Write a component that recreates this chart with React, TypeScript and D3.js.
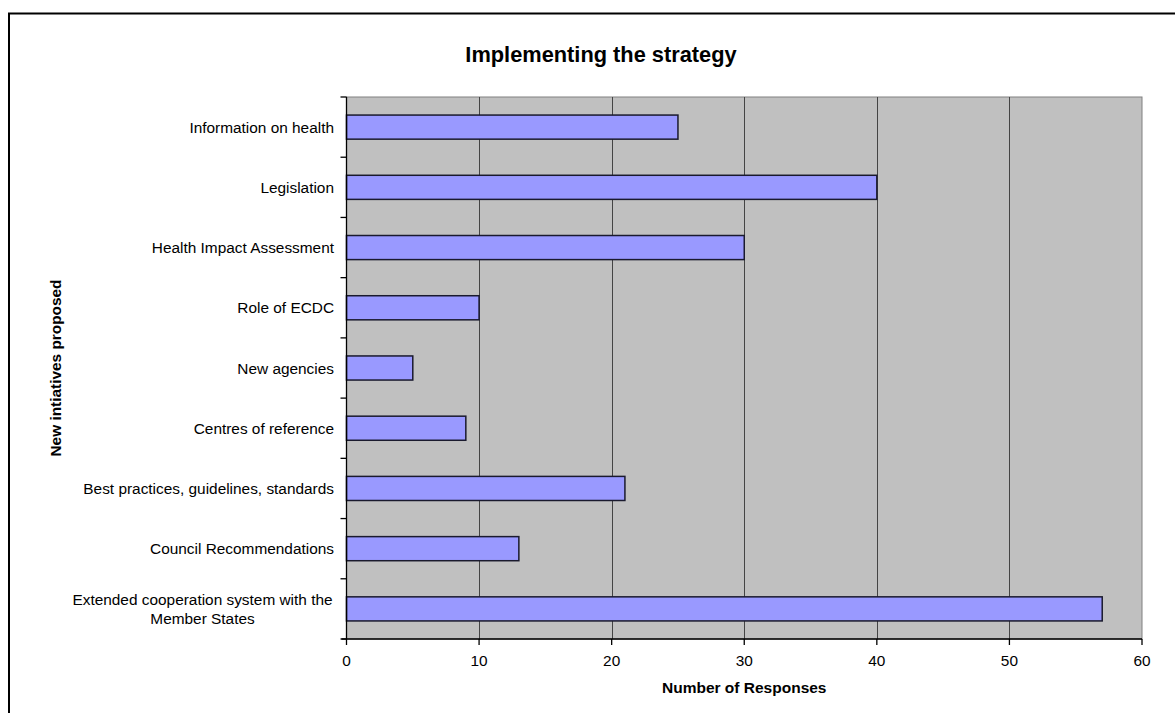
import React from "react";
import * as d3 from "d3";

const categories: string[][] = [
  ["Information on health"],
  ["Legislation"],
  ["Health Impact Assessment"],
  ["Role of ECDC"],
  ["New agencies"],
  ["Centres of reference"],
  ["Best practices, guidelines, standards"],
  ["Council Recommendations"],
  ["Extended cooperation system with the", "Member States"],
];
const values: number[] = [25, 40, 30, 10, 5, 9, 21, 13, 57];
const xTicks: number[] = [0, 10, 20, 30, 40, 50, 60];
const title = "Implementing the strategy";
const xTitle = "Number of Responses";
const yTitle = "New intiatives proposed";

const W = 1175;
const H = 713;
const plot = { left: 346.5, right: 1142, top: 97, bottom: 639 };
const FONT = "'Liberation Sans', Arial, Helvetica, sans-serif";

export default function App() {
  const x = d3.scaleLinear().domain([0, 60]).range([plot.left, plot.right]);
  const keys = categories.map((_, i) => String(i));
  const y = d3
    .scaleBand<string>()
    .domain(keys)
    .range([plot.top, plot.bottom])
    .paddingInner(0.6)
    .paddingOuter(0.3);
  const step = y.step();
  const boundaries = d3.range(categories.length + 1).map((i) => plot.top + i * step);

  return (
    <svg
      width={W}
      height={H}
      style={{ position: "absolute", left: 0, top: 0, background: "#fff" }}
      fontFamily={FONT}
    >
      <rect x={9} y={13.5} width={1300} height={900} fill="none" stroke="#000" strokeWidth={2} />
      <text x={601} y={62} textAnchor="middle" fontSize={21.8} fontWeight="bold" fill="#000">
        {title}
      </text>

      {/* plot background */}
      <rect
        x={plot.left}
        y={plot.top}
        width={plot.right - plot.left}
        height={plot.bottom - plot.top}
        fill="#C0C0C0"
        stroke="#808080"
        strokeWidth={1}
      />
      {/* gridlines */}
      {xTicks.slice(1, -1).map((t) => (
        <line
          key={"g" + t}
          x1={Math.round(x(t)) + 0.5}
          x2={Math.round(x(t)) + 0.5}
          y1={plot.top}
          y2={plot.bottom}
          stroke="#444"
          strokeWidth={1}
        />
      ))}

      {/* bars */}
      {values.map((v, i) => (
        <rect
          key={"b" + i}
          x={x(0)}
          y={y(String(i))!}
          width={x(v) - x(0)}
          height={y.bandwidth()}
          fill="#9999FF"
          stroke="#1a1a2e"
          strokeWidth={1.5}
        />
      ))}

      {/* axes */}
      <line x1={plot.left} x2={plot.left} y1={plot.top} y2={plot.bottom} stroke="#000" strokeWidth={1.3} />
      <line x1={plot.left - 5} x2={plot.right} y1={plot.bottom} y2={plot.bottom} stroke="#000" strokeWidth={1.3} />
      {boundaries.map((b, i) => (
        <line key={"yt" + i} x1={plot.left - 6} x2={plot.left} y1={b} y2={b} stroke="#000" strokeWidth={1.3} />
      ))}
      {xTicks.map((t) => (
        <g key={"xt" + t}>
          <line x1={x(t)} x2={x(t)} y1={plot.bottom} y2={plot.bottom + 6} stroke="#000" strokeWidth={1.3} />
          <text x={x(t)} y={666} textAnchor="middle" fontSize={15.4} fill="#000">
            {t}
          </text>
        </g>
      ))}

      {/* category labels */}
      {categories.map((lines, i) => {
        const cy = y(String(i))! + y.bandwidth() / 2;
        const lh = 19;
        const start = cy + 5.5 - ((lines.length - 1) * lh) / 2;
        return (
          <text key={"c" + i} textAnchor={lines.length > 1 ? "middle" : "end"} fontSize={15.4} fill="#000">
            {lines.map((l, j) => (
              <tspan key={j} x={lines.length > 1 ? 202.5 : 334} y={start + j * lh}>
                {l}
              </tspan>
            ))}
          </text>
        );
      })}

      <text x={(plot.left + plot.right) / 2} y={693} textAnchor="middle" fontSize={15.5} fontWeight="bold" fill="#000">
        {xTitle}
      </text>
      <text
        transform={`translate(61, ${(plot.top + plot.bottom) / 2}) rotate(-90)`}
        textAnchor="middle"
        fontSize={15.4}
        fontWeight="bold"
        fill="#000"
      >
        {yTitle}
      </text>
    </svg>
  );
}
